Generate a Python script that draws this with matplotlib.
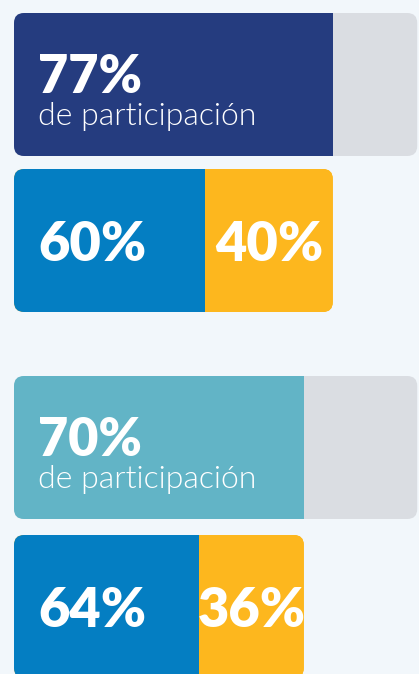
import matplotlib.pyplot as plt
from matplotlib.patches import FancyBboxPatch

plt.rcParams["font.family"] = ["Lato", "DejaVu Sans"]

# participation bars (out of 100) and how each splits in two
participation = [77, 70]
part_colors = ["#253C7F", "#62B4C6"]
split_first = [60, 64]
split_second = [40, 36]
subtitle = "de participación"

bg = "#F2F7FB"
track_color = "#DADDE2"
blue = "#047EC2"
yellow = "#FDB71E"

# layout, in pixels
W, H = 419, 674
left_px = 14
px_per_unit = 4.14
bar_h = 143
row_tops = [[13, 169], [376, 535]]
track_end = 97.4
radius = 10

fig = plt.figure(figsize=(W / 100, H / 100), dpi=100, facecolor=bg)
ax = fig.add_axes([0, 0, 1, 1])
ax.set_facecolor(bg)
ax.set_xlim(-left_px / px_per_unit, (W - left_px) / px_per_unit)
ax.set_ylim(H, 0)
ax.axis("off")


def rounded(x0, x1, top, color):
    p = FancyBboxPatch((x0, top), x1 - x0, bar_h,
                       boxstyle=f"round,pad=0,rounding_size={radius / px_per_unit}",
                       mutation_aspect=px_per_unit, facecolor=color,
                       edgecolor="none")
    ax.add_patch(p)
    return p


for p, col, a, b, (top1, top2) in zip(participation, part_colors,
                                      split_first, split_second, row_tops):
    # participation bar over a grey track
    clip = rounded(0, track_end, top1, track_color)
    bars = ax.barh(top1 + bar_h / 2, p, height=bar_h, left=0, color=col)
    for r in bars:
        r.set_clip_path(clip)
    ax.text(24 / px_per_unit, top1 + 80, f"{p}%", color="white",
            fontsize=37.5, fontweight="heavy", ha="left", va="baseline")
    ax.text(24 / px_per_unit, top1 + 112, subtitle, color="white",
            fontsize=23, fontweight=300, ha="left", va="baseline")

    # split bar, total length equal to participation
    clip2 = rounded(0, p, top2, yellow)
    w1 = p * a / 100
    w2 = p * b / 100
    segs = ax.barh([top2 + bar_h / 2] * 2, [w1, w2], left=[0, w1],
                   height=bar_h, color=[blue, yellow])
    for r in segs:
        r.set_clip_path(clip2)
    ax.text(24 / px_per_unit, top2 + bar_h / 2, f"{a}%", color="white",
            fontsize=39, fontweight="heavy", ha="left", va="center_baseline")
    ax.text(w1 + w2 / 2, top2 + bar_h / 2, f"{b}%", color="white",
            fontsize=39, fontweight="heavy", ha="center", va="center_baseline")

fig.savefig("out.png", dpi=100, facecolor=bg)
